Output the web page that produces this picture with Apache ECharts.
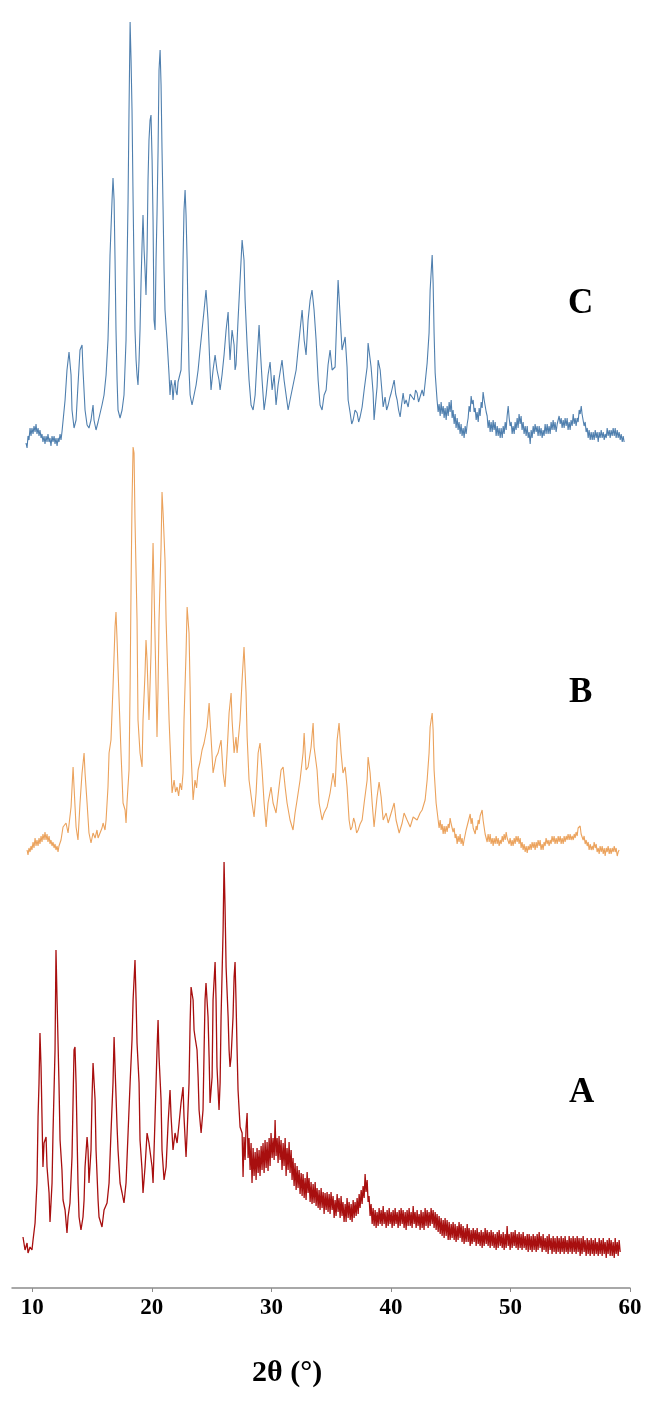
<!DOCTYPE html>
<html>
<head>
<meta charset="utf-8">
<script src="https://cdn.jsdelivr.net/npm/echarts@6/dist/echarts.min.js"></script>
<style>
html,body{margin:0;padding:0;background:#fff;}
#chart{width:670px;height:1426px;}
</style>
</head>
<body>
<div id="chart"></div>
<script>
// 2θ tick labels
const tickValues = [10, 20, 30, 40, 50, 60];
const axisTitle = '2θ (°)';
const traceNames = ['A', 'B', 'C'];
// vertical stacking offsets (a.u.) for each pattern
const offsets = [0, 400, 800];

// Pattern A: [2θ, intensity a.u.]
const patternA = [
[9.22,51],[9.39,38],[9.56,45],[9.64,35],[9.81,41],[9.97,38],[10.06,48],[10.23,65],[10.39,105],[10.48,171],[10.56,205],[10.64,255],[10.73,221],[10.81,171],[10.89,121],[10.98,145],[11.15,151],[11.23,121],[11.40,95],[11.48,66],[11.65,105],[11.73,155],[11.90,238],[11.98,338],[12.07,288],[12.23,205],[12.32,148],[12.48,118],[12.57,88],[12.74,78],[12.90,55],[12.99,71],[13.15,85],[13.32,131],[13.41,188],[13.49,238],[13.57,241],[13.66,205],[13.74,155],[13.82,105],[13.91,71],[14.07,58],[14.24,71],[14.33,88],[14.41,121],[14.58,151],[14.66,138],[14.74,105],[14.91,138],[14.99,188],[15.08,225],[15.25,188],[15.33,138],[15.50,88],[15.58,71],[15.83,61],[16.00,78],[16.25,85],[16.42,105],[16.58,155],[16.75,205],[16.84,251],[16.92,221],[17.09,161],[17.17,138],[17.34,105],[17.51,95],[17.67,85],[17.84,105],[18.01,155],[18.18,205],[18.34,248],[18.43,288],[18.59,328],[18.68,288],[18.76,245],[18.93,205],[19.01,148],[19.18,118],[19.26,95],[19.43,121],[19.60,155],[19.76,145],[20.02,121],[20.10,105],[20.27,171],[20.43,238],[20.52,268],[20.60,231],[20.77,188],[20.85,138],[21.02,108],[21.19,121],[21.36,165],[21.52,198],[21.61,171],[21.77,138],[21.94,155],[22.11,145],[22.28,165],[22.44,185],[22.61,201],[22.69,171],[22.86,131],[22.95,155],[23.11,205],[23.20,265],[23.28,301],[23.45,288],[23.53,258],[23.61,251],[23.78,238],[23.87,211],[23.95,178],[24.12,155],[24.28,178],[24.37,238],[24.45,288],[24.53,305],[24.70,271],[24.79,231],[24.87,185],[25.04,211],[25.12,288],[25.29,326],[25.37,288],[25.45,221],[25.62,178],[25.71,205],[25.79,271],[25.96,358],[26.04,426],[26.12,383],[26.21,321],[26.38,271],[26.46,238],[26.54,221],[26.63,231],[26.79,271],[26.88,311],[26.96,326],[27.04,288],[27.13,238],[27.21,198],[27.38,161],[27.55,155],
[27.63,111],[27.71,151],[27.80,128],[27.88,160],[27.97,175],[28.05,130],[28.13,150],[28.22,118],[28.30,145],[28.38,105],[28.47,140],[28.55,112],[28.64,136],[28.72,108],[28.80,140],[28.89,115],[28.97,138],[29.05,112],[29.14,142],[29.22,118],[29.30,145],[29.39,115],[29.47,148],[29.56,120],[29.64,146],[29.72,117],[29.81,150],[29.89,122],[29.97,155],[30.06,130],[30.14,150],[30.23,128],[30.31,168],[30.39,132],[30.48,150],[30.56,125],[30.64,152],[30.73,128],[30.81,148],[30.89,118],[30.98,145],[31.06,122],[31.15,150],[31.23,112],[31.31,140],[31.40,118],[31.48,146],[31.56,115],[31.65,138],[31.73,108],[31.81,130],[31.90,102],[31.98,125],[32.07,98],[32.15,122],[32.23,100],[32.32,118],[32.40,94],[32.49,115],[32.57,92],[32.65,114],[32.74,90],[32.82,110],[32.90,88],[32.99,116],[33.07,95],[33.15,110],[33.24,86],[33.32,106],[33.40,84],[33.49,104],[33.57,85],[33.66,106],[33.74,82],[33.82,100],[33.91,80],[33.99,98],[34.07,78],[34.16,100],[34.24,80],[34.33,96],[34.41,74],[34.49,95],[34.58,78],[34.66,96],[34.74,76],[34.83,94],[34.91,74],[34.99,96],[35.08,78],[35.16,92],[35.25,70],[35.33,88],[35.41,72],[35.50,94],[35.58,76],[35.66,90],[35.75,70],[35.83,92],[35.91,72],[35.99,86],[36.08,66],[36.17,84],[36.25,66],[36.33,90],[36.42,70],[36.50,86],[36.59,68],[36.67,84],[36.75,66],[36.84,88],[36.92,70],[37.00,86],[37.09,72],[37.17,90],[37.26,74],[37.34,94],[37.42,80],[37.51,98],[37.59,84],[37.67,102],[37.76,90],[37.84,114],[37.92,96],[38.01,108],[38.09,86],[38.17,92],[38.26,72],[38.34,84],[38.43,64],[38.51,80],[38.59,62],[38.68,78],[38.76,60],[38.84,76],[38.93,62],[39.01,80],[39.10,64],[39.18,78],[39.26,62],[39.35,82],[39.43,64],[39.51,76],[39.60,60],[39.68,78],[39.77,62],[39.85,80],[39.93,64],[40.02,76],[40.10,60],[40.18,78],[40.27,62],[40.35,80],[40.43,64],[40.52,76],[40.60,60],[40.69,78],[40.77,62],[40.85,80],[40.94,64],[41.02,78],[41.10,60],[41.19,76],[41.27,58],[41.35,78],[41.44,62],[41.52,80],[41.61,62],[41.69,76],[41.77,60],[41.86,82],[41.94,64],[42.02,76],[42.11,60],[42.19,78],[42.27,62],[42.36,74],[42.44,58],[42.52,78],[42.61,60],[42.69,76],[42.77,58],[42.86,80],[42.94,62],[43.03,78],[43.11,60],[43.19,76],[43.28,62],[43.36,80],[43.45,64],[43.53,78],[43.61,60],[43.70,76],[43.78,58],[43.86,74],[43.95,56],[44.03,72],[44.12,54],[44.20,70],[44.28,52],[44.37,68],[44.45,50],[44.53,70],[44.62,52],[44.70,68],[44.79,48],[44.87,66],[44.95,48],[45.04,64],[45.12,50],[45.20,66],[45.29,48],[45.37,64],[45.45,46],[45.54,62],[45.62,48],[45.70,66],[45.79,50],[45.87,64],[45.95,46],[46.04,62],[46.12,44],[46.21,60],[46.29,46],[46.38,64],[46.46,46],[46.54,60],[46.63,42],[46.71,58],[46.79,44],[46.88,60],[46.96,46],[47.05,58],[47.13,42],[47.21,60],[47.30,44],[47.38,56],[47.46,42],[47.55,58],[47.63,40],[47.71,56],[47.80,42],[47.88,60],[47.97,44],[48.05,58],[48.13,42],[48.22,56],[48.30,40],[48.38,58],[48.47,42],[48.55,56],[48.63,40],[48.72,54],[48.80,38],[48.89,56],[48.97,40],[49.05,58],[49.14,42],[49.22,54],[49.31,40],[49.39,56],[49.47,38],[49.56,54],[49.64,40],[49.72,62],[49.81,42],[49.89,54],[49.97,38],[50.06,56],[50.14,40],[50.22,56],[50.31,42],[50.39,58],[50.47,40],[50.56,54],[50.64,38],[50.72,56],[50.81,40],[50.89,54],[50.97,38],[51.06,56],[51.14,40],[51.23,52],[51.31,38],[51.40,54],[51.48,36],[51.56,54],[51.65,38],[51.73,52],[51.81,36],[51.90,54],[51.98,38],[52.06,52],[52.15,36],[52.23,54],[52.31,38],[52.40,56],[52.48,40],[52.56,52],[52.65,36],[52.73,54],[52.81,38],[52.90,50],[52.98,36],[53.07,52],[53.15,34],[53.23,54],[53.32,38],[53.40,50],[53.48,34],[53.57,52],[53.65,36],[53.73,50],[53.82,34],[53.91,52],[53.99,36],[54.07,50],[54.16,34],[54.24,52],[54.32,36],[54.41,50],[54.49,34],[54.57,52],[54.66,36],[54.74,48],[54.82,34],[54.91,52],[54.99,36],[55.07,50],[55.16,34],[55.24,52],[55.33,36],[55.41,50],[55.49,34],[55.58,52],[55.66,36],[55.74,50],[55.83,32],[55.91,50],[55.99,34],[56.08,52],[56.16,36],[56.24,48],[56.33,32],[56.42,50],[56.50,34],[56.58,48],[56.67,32],[56.75,50],[56.84,34],[56.92,48],[57.00,32],[57.09,50],[57.17,34],[57.25,46],[57.34,32],[57.42,50],[57.50,34],[57.59,48],[57.67,32],[57.76,50],[57.84,34],[57.92,46],[58.01,30],[58.09,48],[58.17,34],[58.26,50],[58.34,32],[58.42,48],[58.51,32],[58.59,46],[58.68,30],[58.76,50],[58.84,34],[58.93,46],[59.01,32],[59.09,48],[59.18,36]
];

// Pattern B: [2θ, intensity a.u.]
const patternB = [
[9.56,38],[9.64,33],[9.72,40],[9.81,36],[9.89,42],[9.97,38],[10.06,46],[10.14,40],[10.23,50],[10.31,42],[10.39,48],[10.48,42],[10.56,50],[10.64,44],[10.73,52],[10.81,46],[10.89,54],[10.98,48],[11.06,56],[11.15,48],[11.23,54],[11.31,46],[11.40,52],[11.48,44],[11.56,48],[11.65,42],[11.73,46],[11.82,40],[11.90,44],[11.98,38],[12.07,42],[12.15,36],[12.23,42],[12.32,40],[12.40,48],[12.48,46],[12.57,61],
[12.82,65],[12.99,55],[13.24,81],[13.41,121],[13.49,101],[13.66,61],[13.82,48],[13.99,85],[14.16,115],[14.33,135],[14.41,115],[14.58,85],[14.74,55],[14.91,45],[15.08,55],[15.25,50],[15.41,58],[15.50,50],[15.66,51],[15.83,60],[15.92,65],[16.08,58],[16.17,68],[16.33,101],[16.42,135],[16.58,148],[16.75,201],[16.92,261],[17.00,276],[17.09,248],[17.25,191],[17.42,135],[17.59,85],[17.76,78],[17.84,65],[17.92,85],[18.09,118],[18.18,201],[18.26,301],[18.34,385],[18.43,441],[18.51,435],[18.59,368],[18.76,268],[18.84,168],[19.01,135],[19.18,121],[19.26,168],[19.43,215],[19.51,248],[19.60,228],[19.76,168],[19.93,235],[20.02,301],[20.10,345],[20.18,301],[20.35,201],[20.43,151],[20.52,201],[20.60,268],[20.77,341],[20.85,396],[20.94,375],[21.10,328],[21.19,268],[21.36,201],[21.44,168],[21.61,118],[21.69,95],[21.86,108],[21.98,96],[22.11,101],[22.24,92],[22.36,105],[22.49,98],[22.61,115],[22.69,168],[22.86,235],[22.95,281],[23.11,255],[23.20,201],[23.28,135],[23.45,88],[23.61,108],[23.74,100],[23.87,118],[24.03,126],[24.20,138],[24.37,145],[24.62,161],[24.79,185],[24.95,151],[25.12,115],[25.37,131],[25.54,135],[25.79,148],[25.96,115],[26.12,101],[26.29,135],[26.46,175],[26.63,195],[26.71,168],[26.88,135],[27.04,151],[27.13,135],[27.38,168],[27.55,208],[27.71,241],[27.88,195],[27.97,151],[28.13,108],[28.38,85],[28.55,71],[28.72,95],[28.89,135],[29.05,145],[29.22,118],[29.39,85],[29.56,61],[29.72,85],[29.97,101],[30.14,85],[30.39,75],[30.64,101],[30.81,118],[30.98,121],[31.15,101],[31.31,85],[31.56,68],[31.81,58],[31.98,75],[32.15,88],[32.40,108],[32.65,135],[32.74,155],[32.90,118],[33.07,121],[33.32,141],[33.49,165],[33.57,141],[33.82,118],[33.99,85],[34.24,68],[34.41,75],[34.66,81],[34.91,95],[35.16,115],[35.33,101],[35.50,148],[35.66,165],[35.83,135],[35.99,115],[36.17,121],[36.33,101],[36.50,68],[36.63,58],[36.75,61],[36.88,70],[37.00,65],[37.13,55],[37.26,58],[37.42,64],[37.59,68],[37.76,85],[38.01,108],[38.09,131],[38.26,115],[38.43,85],[38.59,61],[38.84,91],[39.01,106],[39.18,91],[39.35,68],[39.60,75],[39.77,65],[40.02,75],[40.27,85],[40.43,68],[40.69,55],[40.94,65],[41.10,75],[41.35,68],[41.61,61],[41.86,71],[42.19,68],[42.44,75],[42.61,78],[42.86,88],[43.03,108],[43.19,135],[43.28,161],[43.45,175],[43.53,158],[43.61,118],[43.78,85],
[43.95,68],[44.03,60],[44.12,68],[44.20,58],[44.28,64],[44.37,54],[44.45,62],[44.53,54],[44.62,62],[44.70,56],[44.79,64],[44.87,60],[44.95,70],[45.04,64],[45.12,66],[45.20,56],[45.29,60],[45.37,50],[45.45,54],[45.54,44],[45.62,52],[45.70,46],[45.79,54],[45.87,44],[45.95,50],[46.04,42],[46.12,48],[46.21,48],[46.29,58],[46.38,56],[46.46,66],[46.54,64],[46.63,74],[46.71,64],[46.79,70],[46.88,60],[46.96,62],[47.05,54],[47.13,62],[47.21,58],[47.30,68],[47.38,64],[47.46,72],[47.55,70],[47.63,78],[47.71,68],[47.80,66],[47.88,54],[47.97,56],[48.05,46],[48.13,54],[48.22,46],[48.30,54],[48.38,44],[48.47,50],[48.55,42],[48.63,50],[48.72,44],[48.80,52],[48.89,44],[48.97,50],[49.05,42],[49.14,48],[49.22,44],[49.31,52],[49.39,46],[49.47,54],[49.56,48],[49.64,56],[49.72,50],[49.81,52],[49.89,44],[49.97,50],[50.06,42],[50.14,48],[50.22,42],[50.31,50],[50.39,44],[50.47,52],[50.56,46],[50.64,52],[50.72,44],[50.81,50],[50.89,40],[50.97,46],[51.06,38],[51.14,44],[51.23,36],[51.31,42],[51.40,35],[51.48,42],[51.56,38],[51.65,44],[51.73,38],[51.81,46],[51.90,40],[51.98,46],[52.06,38],[52.15,46],[52.23,40],[52.31,48],[52.40,42],[52.48,48],[52.56,38],[52.65,44],[52.73,38],[52.81,46],[52.90,42],[52.98,50],[53.07,44],[53.15,48],[53.23,42],[53.32,48],[53.40,44],[53.48,52],[53.57,46],[53.65,52],[53.73,44],[53.82,50],[53.91,44],[53.99,52],[54.07,46],[54.16,52],[54.24,44],[54.32,50],[54.41,44],[54.49,52],[54.57,46],[54.66,52],[54.74,48],[54.82,54],[54.91,48],[54.99,54],[55.07,48],[55.16,52],[55.25,48],[55.33,54],[55.41,50],[55.49,56],[55.58,52],[55.66,60],[55.75,58],[55.83,62],[55.91,54],[56.00,56],[56.08,48],[56.16,52],[56.25,44],[56.33,48],[56.42,42],[56.50,46],[56.58,38],[56.67,44],[56.75,38],[56.84,42],[56.92,38],[57.00,46],[57.09,40],[57.17,44],[57.25,36],[57.34,40],[57.42,34],[57.50,42],[57.59,36],[57.67,42],[57.76,34],[57.84,40],[57.92,32],[58.01,40],[58.09,36],[58.17,42],[58.26,34],[58.34,40],[58.42,34],[58.51,40],[58.59,36],[58.68,42],[58.76,36],[58.84,40],[58.93,32],[59.01,36],[59.09,38]
];

// Pattern C: [2θ, intensity a.u.]
const patternC = [
[9.47,45],[9.56,40],[9.64,52],[9.72,48],[9.81,60],[9.89,52],[9.97,60],[10.06,54],[10.14,62],[10.23,56],[10.31,64],[10.39,54],[10.48,60],[10.56,52],[10.64,58],[10.73,50],[10.81,54],[10.89,46],[10.98,52],[11.06,44],[11.15,52],[11.23,46],[11.31,54],[11.40,46],[11.48,50],[11.56,42],[11.65,52],[11.73,46],[11.82,52],[11.90,44],[11.98,50],[12.07,42],[12.15,50],[12.23,46],[12.32,54],[12.40,48],[12.48,56],[12.57,54],
[12.74,88],[12.90,118],[13.07,136],[13.24,113],[13.32,78],[13.49,60],[13.66,68],[13.82,103],[13.99,138],[14.16,143],[14.24,118],[14.41,78],[14.58,63],[14.74,60],[14.91,68],[15.08,83],[15.16,68],[15.33,58],[15.50,66],[15.66,68],[15.83,83],[16.00,93],[16.17,113],[16.33,148],[16.42,188],[16.50,233],[16.67,288],[16.75,310],[16.84,288],[16.92,228],[17.00,158],[17.09,108],[17.17,78],[17.34,70],[17.51,78],[17.67,93],[17.84,148],[17.92,218],[18.01,288],[18.09,378],[18.18,466],[18.26,428],[18.34,378],[18.43,288],[18.51,218],[18.59,158],[18.68,128],[18.76,113],[18.84,103],[18.93,128],[19.01,158],[19.10,208],[19.18,243],[19.26,273],[19.35,238],[19.43,218],[19.51,193],[19.60,238],[19.68,308],[19.76,348],[19.85,368],[19.93,373],[20.02,328],[20.10,268],[20.18,168],[20.27,158],[20.35,228],[20.43,273],[20.52,338],[20.60,418],[20.69,438],[20.77,403],[20.85,338],[20.94,278],[21.02,218],[21.10,178],[21.27,148],[21.44,113],[21.52,93],[21.61,108],[21.69,103],[21.77,88],[21.86,102],[21.94,108],[22.03,96],[22.11,93],[22.19,106],[22.28,108],[22.44,118],[22.53,158],[22.61,228],[22.69,278],[22.78,298],[22.86,273],[22.95,228],[23.03,168],[23.11,118],[23.20,93],[23.36,83],[23.53,93],[23.70,103],[23.87,118],[24.03,138],[24.20,158],[24.37,178],[24.53,198],[24.70,168],[24.87,118],[24.95,98],[25.12,118],[25.29,133],[25.45,118],[25.62,108],[25.71,98],[25.87,113],[26.04,133],[26.21,158],[26.38,176],[26.46,148],[26.54,128],[26.71,158],[26.88,143],[26.96,118],[27.04,123],[27.21,168],[27.38,208],[27.55,248],[27.71,228],[27.80,188],[27.97,143],[28.13,108],[28.30,83],[28.47,78],[28.64,93],[28.80,128],[28.97,163],[29.05,143],[29.22,108],[29.39,78],[29.56,93],[29.72,113],[29.89,126],[30.06,98],[30.23,113],[30.39,83],[30.56,103],[30.73,116],[30.89,128],[31.06,108],[31.23,93],[31.40,78],[31.56,88],[31.73,98],[31.90,108],[32.07,118],[32.23,138],[32.40,158],[32.57,178],[32.74,148],[32.90,133],[33.07,168],[33.24,188],[33.40,198],[33.57,178],[33.74,148],[33.91,108],[34.07,83],[34.24,78],[34.41,93],[34.58,98],[34.74,123],[34.91,138],[35.08,118],[35.33,121],[35.58,208],[35.83,155],[35.91,138],[36.17,151],[36.33,121],[36.42,88],[36.59,75],[36.72,64],[36.84,68],[37.00,78],[37.17,75],[37.30,66],[37.42,71],[37.59,81],[37.76,98],[38.01,121],[38.09,145],[38.34,121],[38.51,95],[38.59,68],[38.84,101],[38.93,128],[39.10,118],[39.26,95],[39.35,81],[39.51,91],[39.64,78],[39.77,83],[39.90,90],[40.02,95],[40.27,108],[40.40,94],[40.52,88],[40.64,78],[40.77,71],[40.90,84],[41.02,95],[41.14,84],[41.27,88],[41.44,81],[41.60,94],[41.77,91],[41.94,88],[42.06,98],[42.19,95],[42.31,86],[42.44,88],[42.61,98],[42.74,92],[42.86,105],[43.03,125],[43.19,155],[43.28,198],[43.45,233],[43.53,205],[43.61,155],[43.70,115],
[43.86,88],[43.95,76],[44.03,84],[44.12,72],[44.20,86],[44.28,74],[44.37,82],[44.45,70],[44.53,80],[44.62,68],[44.70,82],[44.79,72],[44.87,86],[44.95,76],[45.04,88],[45.12,70],[45.20,78],[45.29,64],[45.37,74],[45.45,60],[45.54,70],[45.62,58],[45.70,66],[45.79,54],[45.87,64],[45.95,52],[46.04,60],[46.12,50],[46.21,62],[46.29,54],[46.38,64],[46.46,70],[46.54,82],[46.63,76],[46.71,92],[46.79,84],[46.88,88],[46.96,76],[47.05,80],[47.13,68],[47.21,76],[47.30,66],[47.38,80],[47.46,72],[47.55,86],[47.63,80],[47.71,96],[47.80,88],[47.88,90],[47.97,76],[48.05,72],[48.13,60],[48.22,68],[48.30,56],[48.38,66],[48.47,56],[48.55,68],[48.63,58],[48.72,66],[48.80,52],[48.89,62],[48.97,52],[49.05,60],[49.14,50],[49.22,60],[49.31,50],[49.39,62],[49.47,54],[49.56,66],[49.64,58],[49.72,72],[49.81,82],[49.89,70],[49.97,62],[50.06,66],[50.14,54],[50.22,62],[50.31,54],[50.39,66],[50.47,58],[50.56,70],[50.64,60],[50.72,74],[50.81,64],[50.89,72],[50.97,58],[51.06,66],[51.14,54],[51.23,62],[51.31,52],[51.40,62],[51.48,50],[51.56,56],[51.65,44],[51.73,58],[51.81,50],[51.90,62],[51.98,54],[52.06,64],[52.15,56],[52.23,62],[52.31,52],[52.40,62],[52.48,52],[52.56,60],[52.65,50],[52.73,58],[52.81,52],[52.90,64],[52.98,54],[53.07,64],[53.15,54],[53.23,62],[53.32,54],[53.40,66],[53.48,58],[53.57,68],[53.65,58],[53.73,66],[53.82,56],[53.91,64],[53.99,62],[54.07,72],[54.16,64],[54.24,70],[54.32,60],[54.41,68],[54.49,60],[54.57,70],[54.66,62],[54.74,70],[54.82,58],[54.91,66],[54.99,58],[55.07,68],[55.16,62],[55.25,74],[55.33,64],[55.41,70],[55.49,62],[55.58,70],[55.66,66],[55.75,78],[55.83,74],[55.92,82],[55.99,74],[56.08,72],[56.16,62],[56.25,66],[56.33,56],[56.42,60],[56.50,50],[56.58,58],[56.67,48],[56.75,56],[56.84,48],[56.92,56],[57.00,48],[57.09,58],[57.17,50],[57.25,56],[57.34,46],[57.42,56],[57.50,50],[57.59,58],[57.67,50],[57.76,56],[57.84,48],[57.92,54],[58.01,50],[58.09,60],[58.17,52],[58.26,58],[58.34,50],[58.42,58],[58.51,52],[58.59,60],[58.68,52],[58.76,60],[58.84,50],[58.93,58],[59.01,50],[59.09,56],[59.18,48],[59.26,54],[59.35,46],[59.43,52],[59.51,46]
];

const patterns = [patternA, patternB, patternC];
const colors = ['#a80f0f', '#eba25c', '#4f7fae'];

const chart = echarts.init(document.getElementById('chart'), null, {renderer: 'canvas'});

const series = patterns.map((p, i) => ({
  name: traceNames[i],
  type: 'line',
  data: p.map(d => [d[0], d[1] + offsets[i]]),
  showSymbol: false,
  symbol: 'none',
  smooth: false,
  lineStyle: {color: colors[i], width: i === 0 ? 1.3 : 1.1},
  itemStyle: {color: colors[i]},
  silent: true,
  z: 3 - i
}));

chart.setOption({
  animation: false,
  backgroundColor: '#ffffff',
  grid: {left: 12, right: 40, top: 0, bottom: 138, containLabel: false},
  xAxis: {
    type: 'value',
    min: 8.3,
    max: 60,
    axisLine: {show: true, onZero: false, lineStyle: {color: '#8c8c8c', width: 1.5}},
    axisTick: {show: true, length: 4, lineStyle: {color: '#8c8c8c', width: 1}, customValues: tickValues},
    axisLabel: {
      show: true, customValues: tickValues, margin: 9,
      color: '#000', fontFamily: '"Liberation Serif", "Times New Roman", serif',
      fontWeight: 'bold', fontSize: 23
    },
    splitLine: {show: false}
  },
  yAxis: {
    type: 'value', min: 0, max: 1288, show: false,
    splitLine: {show: false}
  },
  graphic: [
    {type: 'text', left: 252, top: 1358, style: {text: axisTitle, fill: '#000', font: 'bold 30px "Liberation Serif", serif'}},
    {type: 'text', left: 569, top: 1075, style: {text: traceNames[0], fill: '#000', font: 'bold 35px "Liberation Serif", serif'}},
    {type: 'text', left: 569, top: 675, style: {text: traceNames[1], fill: '#000', font: 'bold 35px "Liberation Serif", serif'}},
    {type: 'text', left: 568, top: 286, style: {text: traceNames[2], fill: '#000', font: 'bold 35px "Liberation Serif", serif'}}
  ],
  series: series
});
</script>
</body>
</html>
